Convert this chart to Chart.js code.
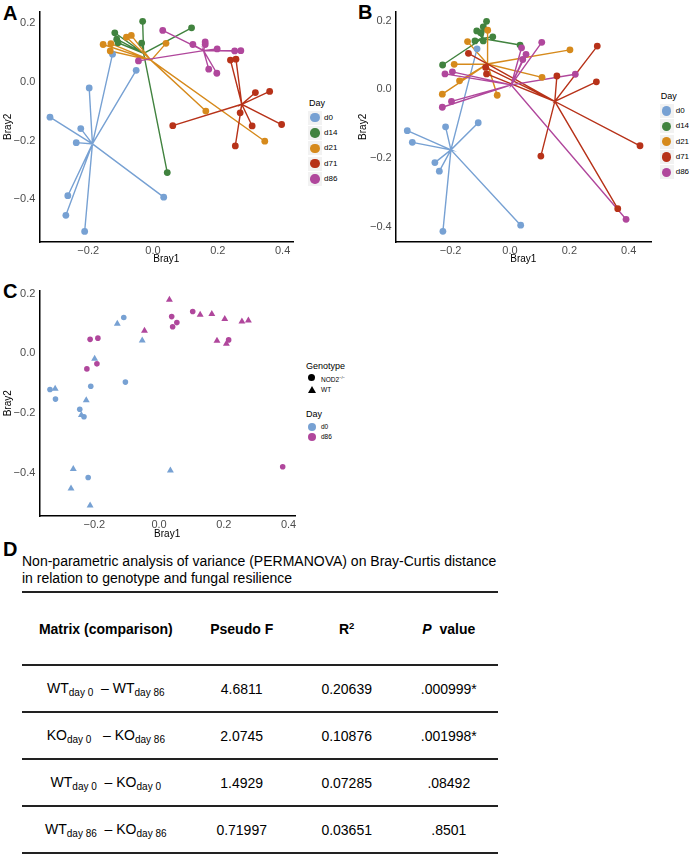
<!DOCTYPE html>
<html lang="en">
<head>
  <meta charset="UTF-8">
  <title>Bray-Curtis ordination</title>
  <script src="https://cdn.jsdelivr.net/npm/chart.js"></script>
  <style>
    body { margin: 0; width: 689px; height: 854px; position: relative; background: #fff; overflow: hidden;
           font-family: "Liberation Sans", Arial, sans-serif; color: #000; }
    canvas { position: absolute; }
    .letter { position: absolute; font-weight: bold; font-size: 20px; line-height: 20px; }
    .lgTitle { position: absolute; font-size: 9px; line-height: 10px; }
    .lgText { position: absolute; font-size: 8px; line-height: 10px; }
    .key { position: absolute; width: 14px; height: 14px; background: #f2f2f2; }
    .dot { position: absolute; border-radius: 50%; }
    .tri { position: absolute; width: 0; height: 0; border-left: 4px solid transparent;
           border-right: 4px solid transparent; border-bottom: 7px solid #000; }
    .titleD { position: absolute; left: 22px; top: 553px; font-size: 14px; line-height: 16.7px; white-space: nowrap; }
    table.perm { position: absolute; left: 22px; top: 591px; width: 476px; border-collapse: collapse;
                 font-size: 14px; text-align: center; }
    table.perm th, table.perm td { padding: 0; border-bottom: 2px solid #222; }
    table.perm tr.head th { border-top: 2px solid #222; height: 71px; }
    table.perm td { height: 45px; }
    table.perm sub { font-size: 10px; vertical-align: -3px; }
    table.perm sup { font-size: 9.5px; vertical-align: 5px; }
  </style>
</head>
<body>

  <div class="letter" style="left:3px;top:3px">A</div>
  <div class="letter" style="left:358px;top:2px">B</div>
  <div class="letter" style="left:3px;top:281px">C</div>
  <div class="letter" style="left:3px;top:539px">D</div>

  <canvas id="chartA" width="300" height="268" style="left:0;top:0"></canvas>
  <canvas id="chartB" width="300" height="268" style="left:355px;top:0"></canvas>
  <canvas id="chartC" width="300" height="263" style="left:0;top:280px"></canvas>

  <div id="legendA"></div>
  <div id="legendB"></div>
  <div id="legendC"></div>

  <div class="titleD">Non-parametric analysis of variance (PERMANOVA) on Bray-Curtis distance<br>in relation to genotype and fungal resilience</div>
  <table class="perm" id="permTable">
    <colgroup><col style="width:167.6px"><col style="width:104.2px"><col style="width:105.8px"><col style="width:98.4px"></colgroup>
    <tr class="head"><th>Matrix (comparison)</th><th>Pseudo F</th><th>R<sup>2</sup></th><th><i>P</i>&nbsp; value</th></tr>
  </table>

  <script>
    // ---- data ----
    const dayLabels = ['d0', 'd14', 'd21', 'd71', 'd86'];
    const dayColors = ['#77a1d3', '#41833f', '#d68a1c', '#b73219', '#b0479c'];

    // panel A
    const aD0 = [[-0.318, -0.120], [-0.197, -0.020], [-0.223, -0.159], [-0.237, -0.207], [-0.263, -0.388],
                 [-0.269, -0.455], [-0.211, -0.510], [0.033, -0.393], [-0.052, 0.040], [-0.125, 0.095]];
    const aD14 = [[-0.032, 0.207], [0.119, 0.185], [-0.118, 0.168], [-0.112, 0.146], [-0.108, 0.134],
                  [-0.035, 0.133], [0.044, -0.309]];
    const aD21 = [[-0.154, 0.128], [-0.130, 0.131], [-0.132, 0.106], [-0.082, 0.153], [-0.067, 0.159],
                  [0.040, 0.132], [0.163, -0.099], [0.345, -0.202]];
    const aD71 = [[0.239, 0.075], [0.256, 0.078], [0.316, -0.036], [0.360, -0.032], [0.061, -0.149],
                  [0.269, -0.105], [0.306, -0.150], [0.397, -0.145], [0.254, -0.218]];
    const aD86 = [[0.030, 0.176], [0.123, 0.128], [0.161, 0.137], [0.161, 0.128], [0.198, 0.113],
                  [0.172, 0.044], [0.197, 0.030], [0.252, 0.106], [0.271, 0.107], [-0.045, 0.072]];
    const aCentres = [[-0.187, -0.211], [-0.029, 0.098], [-0.006, 0.074], [0.274, -0.076], [0.156, 0.107]];

    // panel B
    const bD0 = [[-0.346, -0.120], [-0.329, -0.154], [-0.253, -0.213], [-0.238, -0.238], [-0.217, -0.109],
                 [-0.107, -0.097], [-0.226, -0.413], [0.036, -0.395], [-0.111, 0.118]];
    const bD14 = [[-0.079, 0.198], [-0.090, 0.182], [-0.112, 0.170], [-0.099, 0.165], [-0.118, 0.141],
                  [-0.090, 0.141], [-0.058, 0.153], [0.034, 0.129], [-0.227, 0.071]];
    const bD21 = [[-0.143, 0.139], [-0.075, 0.172], [-0.188, 0.073], [-0.170, 0.025], [-0.228, -0.014],
                  [-0.043, -0.017], [0.108, 0.035], [0.202, 0.115]];
    const bD71 = [[-0.140, 0.105], [-0.082, 0.064], [-0.079, 0.045], [0.158, 0.039], [0.294, 0.126],
                  [0.291, 0.022], [0.104, -0.194], [0.438, -0.164], [0.363, -0.347]];
    const bD86 = [[-0.219, 0.045], [-0.194, 0.051], [-0.228, -0.052], [-0.197, -0.035], [0.039, 0.121],
                  [0.107, 0.137], [0.054, 0.102], [0.043, 0.087], [0.220, 0.044], [0.391, -0.378]];
    const bCentres = [[-0.199, -0.176], [-0.093, 0.148], [-0.076, 0.074], [0.151, -0.035], [0.004, 0.013]];

    // panel C (d0 / d86 by genotype)
    const cD0Nod2 = [[-0.337, -0.121], [-0.320, -0.153], [-0.245, -0.187], [-0.232, -0.212], [-0.211, -0.110],
                     [-0.219, -0.415], [-0.109, 0.120], [-0.104, -0.096]];
    const cD0Wt = [[-0.321, -0.118], [-0.129, 0.099], [-0.199, -0.018], [-0.052, 0.043], [-0.225, -0.157],
                   [-0.240, -0.206], [-0.265, -0.387], [-0.272, -0.452], [-0.213, -0.509], [0.035, -0.392]];
    const cD86Nod2 = [[-0.213, 0.047], [-0.189, 0.051], [-0.223, -0.052], [-0.192, -0.035], [0.039, 0.123],
                      [0.042, 0.089], [0.055, 0.103], [0.104, 0.140], [0.215, 0.045], [0.382, -0.379]];
    const cD86Wt = [[0.032, 0.179], [-0.045, 0.076], [0.127, 0.129], [0.163, 0.132], [0.203, 0.115],
                    [0.256, 0.107], [0.276, 0.110], [0.179, 0.042], [0.208, 0.032]];

    const xTicksA = [-0.2, 0.0, 0.2, 0.4];
    const yTicksA = [-0.4, -0.2, 0.0, 0.2];
    const xTicksB = [-0.2, 0.0, 0.2, 0.4];
    const yTicksB = [-0.4, -0.2, 0.0, 0.2];
    const xTicksC = [-0.2, 0.0, 0.2, 0.4];
    const yTicksC = [-0.4, -0.2, 0.0, 0.2];

    // table D
    const comparisons = ['WT<sub>day 0</sub> &nbsp;\u2013 WT<sub>day 86</sub>',
                         'KO<sub>day 0</sub> &nbsp; \u2013 KO<sub>day 86</sub>',
                         'WT<sub>day 0</sub> &nbsp;\u2013 KO<sub>day 0</sub>',
                         'WT<sub>day 86</sub> &nbsp;\u2013 KO<sub>day 86</sub>'];
    const pseudoF = ['4.6811', '2.0745', '1.4929', '0.71997'];
    const rSquared = ['0.20639', '0.10876', '0.07285', '0.03651'];
    const pValues = ['.000999*', '.001998*', '.08492', '.8501'];

    // ---- helpers ----
    const tickFont = { family: 'Liberation Sans', size: 11 };
    const titleFont = { family: 'Liberation Sans', size: 10 };

    function fmt(v) {
      return (v < 0 ? '\u2212' : '') + Math.abs(v).toFixed(1);
    }

    function toXY(pts) {
      return pts.map(p => ({ x: p[0], y: p[1] }));
    }

    // centre -> point -> centre -> point ... gives the spider lines
    function spider(pts, c) {
      const path = [];
      pts.forEach(p => {
        path.push({ x: c[0], y: c[1] });
        path.push({ x: p[0], y: p[1] });
      });
      return path;
    }

    function spiderSets(groups, centres) {
      const sets = [];
      groups.forEach((pts, i) => {
        sets.push({ label: dayLabels[i], data: toXY(pts), backgroundColor: dayColors[i],
                    borderWidth: 0, pointRadius: 3.4, order: 9 - i });
        sets.push({ label: dayLabels[i] + ' lines', data: spider(pts, centres[i]), showLine: true,
                    borderColor: dayColors[i], borderWidth: 1.4, pointRadius: 0, order: 19 - i });
      });
      return sets;
    }

    function axisOpts(min, max, ticks, title, fit, tickPad) {
      return {
        type: 'linear', min: min, max: max,
        grid: { display: false, drawTicks: false },
        border: { display: true, color: '#000', width: 1.5 },
        afterBuildTicks: s => { s.ticks = ticks.map(v => ({ value: v })); },
        afterFit: fit,
        ticks: { color: '#4d4d4d', font: tickFont, padding: tickPad, callback: v => fmt(v) },
        title: { display: true, text: title, color: '#000', font: titleFont, padding: { top: 2, bottom: 3 } }
      };
    }

    function makeChart(id, datasets, xr, yr, xt, yt, yWidth, xHeight, pad) {
      return new Chart(document.getElementById(id), {
        type: 'scatter',
        data: { datasets: datasets },
        options: {
          responsive: false,
          animation: false,
          layout: { padding: pad },
          plugins: { legend: { display: false }, tooltip: { enabled: false } },
          scales: {
            x: axisOpts(xr[0], xr[1], xt, 'Bray1', s => { s.height = xHeight; }, 2),
            y: axisOpts(yr[0], yr[1], yt, 'Bray2', s => { s.width = yWidth; }, 4)
          }
        }
      });
    }

    // ---- panels A and B ----
    makeChart('chartA', spiderSets([aD0, aD14, aD21, aD71, aD86], aCentres),
      [-0.351, 0.433], [-0.546, 0.240], xTicksA, yTicksA, 39.3, 26,
      { top: 11.7, right: 6.7, left: 0, bottom: 0 });

    makeChart('chartB', spiderSets([bD0, bD14, bD21, bD71, bD86], bCentres),
      [-0.385, 0.475], [-0.444, 0.226], xTicksB, yTicksB, 40.7, 26,
      { top: 11.7, right: 4, left: 0, bottom: 0 });

    // ---- panel C ----
    const setsC = [
      { label: 'd86 WT', data: toXY(cD86Wt), backgroundColor: dayColors[4], borderWidth: 0, pointStyle: 'triangle', pointRadius: 4 },
      { label: 'd86 NOD2', data: toXY(cD86Nod2), backgroundColor: dayColors[4], borderWidth: 0, pointStyle: 'circle', pointRadius: 2.8 },
      { label: 'd0 WT', data: toXY(cD0Wt), backgroundColor: dayColors[0], borderWidth: 0, pointStyle: 'triangle', pointRadius: 4 },
      { label: 'd0 NOD2', data: toXY(cD0Nod2), backgroundColor: dayColors[0], borderWidth: 0, pointStyle: 'circle', pointRadius: 2.8 }
    ];
    makeChart('chartC', setsC, [-0.370, 0.420], [-0.544, 0.210], xTicksC, yTicksC, 39.3, 27,
      { top: 4.5, right: 5, left: 0, bottom: 0 });

    // ---- legends ----
    function dayLegend(el, x, y0, labels, colors, step) {
      let html = '<div class="lgTitle" style="left:' + (x - 6) + 'px;top:' + (y0 - 20) + 'px">Day</div>';
      labels.forEach((lab, i) => {
        const cy = y0 + i * step;
        html += '<div class="key" style="left:' + (x - 7) + 'px;top:' + (cy - 7) + 'px"></div>';
        html += '<div class="dot" style="left:' + (x - 4.7) + 'px;top:' + (cy - 4.7) + 'px;width:9.4px;height:9.4px;background:' + colors[i] + '"></div>';
        html += '<div class="lgText" style="left:' + (x + 9) + 'px;top:' + (cy - 5) + 'px">' + lab + '</div>';
      });
      document.getElementById(el).innerHTML = html;
    }
    dayLegend('legendA', 315, 117.7, dayLabels, dayColors, 15.3);
    dayLegend('legendB', 666.7, 111, dayLabels, dayColors, 15.3);

    document.getElementById('legendC').innerHTML =
      '<div class="lgTitle" style="left:306px;top:360.5px">Genotype</div>' +
      '<div class="dot" style="left:308px;top:374px;width:7.4px;height:7.4px;background:#000"></div>' +
      '<div class="lgText" style="left:321px;top:373px;font-size:6.5px">NOD2<sup style="font-size:4px">\u2212/\u2212</sup></div>' +
      '<div class="tri" style="left:307.7px;top:386px"></div>' +
      '<div class="lgText" style="left:321px;top:385px;font-size:6.5px">WT</div>' +
      '<div class="lgTitle" style="left:306px;top:409px">Day</div>' +
      '<div class="dot" style="left:307.7px;top:422.7px;width:8px;height:8px;background:' + dayColors[0] + '"></div>' +
      '<div class="lgText" style="left:321px;top:422px;font-size:6.5px">d0</div>' +
      '<div class="dot" style="left:307.7px;top:433px;width:8px;height:8px;background:' + dayColors[4] + '"></div>' +
      '<div class="lgText" style="left:321px;top:432px;font-size:6.5px">d86</div>';

    // ---- table D ----
    const table = document.getElementById('permTable');
    comparisons.forEach((c, i) => {
      const tr = document.createElement('tr');
      tr.innerHTML = '<td>' + c + '</td><td>' + pseudoF[i] + '</td><td>' + rSquared[i] + '</td><td>' + pValues[i] + '</td>';
      table.appendChild(tr);
    });
  </script>
</body>
</html>
